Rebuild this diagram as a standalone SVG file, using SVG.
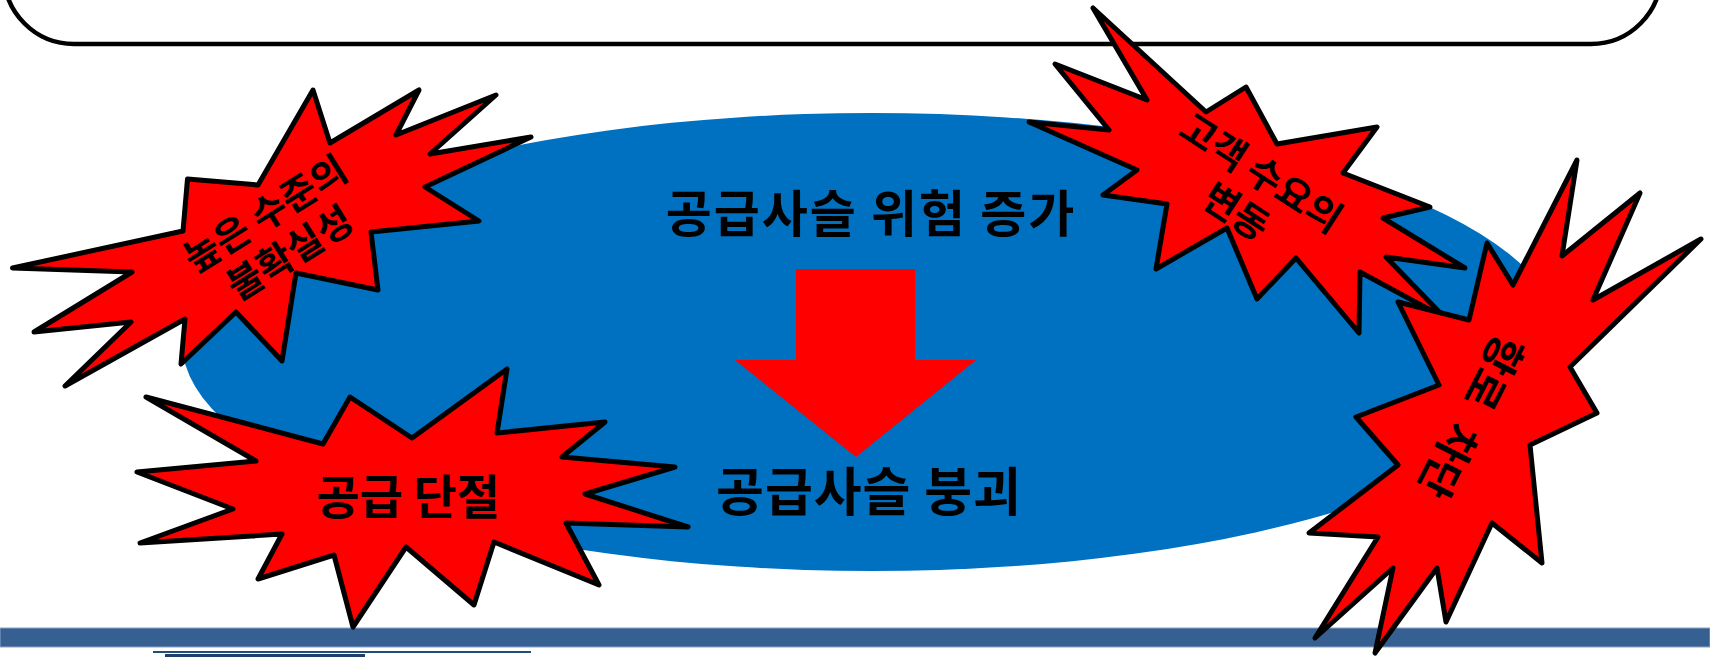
<svg xmlns="http://www.w3.org/2000/svg" width="1710" height="657" viewBox="0 0 1710 657">
<style>
.star{fill:#ff0000;stroke:#000;stroke-width:5;stroke-linejoin:round}
.t{font-family:"Noto Sans CJK KR","Noto Sans",sans-serif;font-weight:bold;fill:#000;text-anchor:middle;dominant-baseline:central}
</style>
<rect width="1710" height="657" fill="#fff"/>
<g id="header-box">
<rect x="4" y="-100" width="1657" height="144" rx="70" ry="70" fill="none" stroke="#000" stroke-width="4.5"/>
</g>
<g id="bottom-bar">
<rect x="0" y="628" width="1710" height="19" fill="#376092" stroke="#8aa4c6" stroke-width="1"/>
<rect x="153" y="651" width="378" height="2" fill="#1f4e79"/>
<rect x="165" y="654" width="200" height="3" fill="#1f3f6b"/>
</g>
<g id="risk-ellipse">
<ellipse cx="872" cy="342" rx="690" ry="229" fill="#0070c0"/>
<text class="t" x="871" y="210" font-size="50" letter-spacing="2">공급사슬 위험 증가</text>
<text class="t" x="869" y="488" font-size="52" letter-spacing="1">공급사슬 붕괴</text>
</g>
<g id="connectors">
<polygon points="796,269 915,269 915,360 976,360 856,457 735,360 796,360" fill="#ff0000"/>
</g>
<g id="star-uncertainty">
<polygon class="star" points="313,90 330,143 419,90 396,135 496,95 430,154 531,137 425,187 479,221 371,232 378,290 296,273 282,361 236,312 181,364 185,319 65,386 131,322 34,332 132,272 12.5,268 183,231 187.5,179 258,185"/>
<g transform="translate(276,231) rotate(-32)">
<text class="t" x="0" y="-23" font-size="38">높은 수준의</text>
<text class="t" x="0" y="23" font-size="38">불확실성</text>
</g>
</g>
<g id="star-demand">
<polygon class="star" points="1093,8 1147,100 1055,64 1109,130 1029,122 1137,170 1103,195 1167,204 1156,269 1227,228 1257,299 1296,258 1359,333 1360,272 1445,318 1386,257 1465,268 1383,218 1430,207 1343,173 1377,127 1277,144 1246,87 1206,112"/>
<g transform="translate(1250,190) rotate(33)">
<text class="t" x="0" y="-23" font-size="38">고객 수요의</text>
<text class="t" x="0" y="23" font-size="38">변동</text>
</g>
</g>
<g id="star-route">
<polygon class="star" points="1577,160 1562,256 1640,193 1593,300 1701,239 1570,367 1597,413 1530,445 1542,563 1492,523 1446,622 1437,568 1375,653 1393,568 1315,638 1378,537 1309,533 1398,465 1356,417 1439,385 1398,302 1469,320 1487,243 1513,285"/>
<text class="t" transform="translate(1474,418) rotate(117)" x="0" y="0" font-size="42">항로<tspan dx="22">차단</tspan></text>
</g>
<g id="star-disruption">
<polygon class="star" points="507,369 497,433 605,422 562,457 675,467 585,494 688,527 566,523 599,585 494,542 474,605 406,547 353,627 334,555 258,579 282,534 140,543 233,509 137,472 256,461 146,397 323,444 350,397 412,438"/>
<text class="t" x="408" y="493" font-size="47">공급 단절</text>
</g>
</svg>
